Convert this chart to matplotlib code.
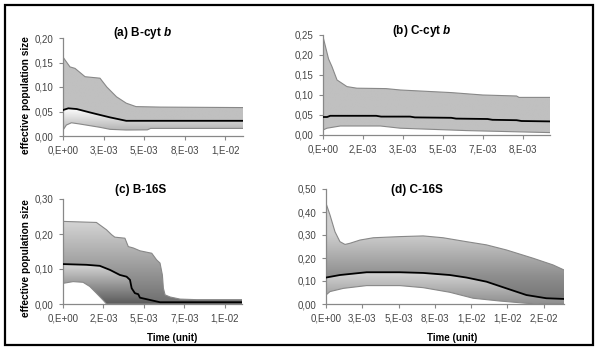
import numpy as np
import matplotlib
matplotlib.use("Agg")
import matplotlib.pyplot as plt
from matplotlib.patches import Polygon, Rectangle
from matplotlib.colors import LinearSegmentedColormap

plt.rcParams['font.family'] = ['Liberation Sans', 'DejaVu Sans']
plt.rcParams['mathtext.fontset'] = 'custom'
plt.rcParams['mathtext.it'] = 'Liberation Sans:italic:bold'
plt.rcParams['mathtext.rm'] = 'Liberation Sans:bold'

# ---------------- data ----------------
# (a) B-cyt b
a_xu = [0, 0.00043, 0.00074, 0.00136, 0.00228, 0.0027, 0.0033, 0.0039, 0.0045, 0.0060, 0.0111]
a_yu = [0.161, 0.141, 0.138, 0.121, 0.118, 0.100, 0.080, 0.067, 0.060, 0.059, 0.058]
a_xm = [0, 0.00033, 0.00085, 0.00167, 0.00228, 0.0029, 0.0039, 0.0111]
a_ym = [0.053, 0.0565, 0.055, 0.048, 0.043, 0.038, 0.031, 0.031]
a_xl = [0, 0.00021, 0.00052, 0.00103, 0.00228, 0.0029, 0.0039, 0.0052, 0.0054, 0.0111]
a_yl = [0.012, 0.0224, 0.027, 0.0245, 0.0177, 0.0136, 0.0122, 0.0125, 0.0155, 0.0155]
a_xticks = [0, 0.0025, 0.005, 0.0075, 0.01]
a_xlabels = ["0,E+00", "3,E-03", "5,E-03", "8,E-03", "1,E-02"]
a_yticks = [0, 0.05, 0.10, 0.15, 0.20]
a_ylabels = ["0,00", "0,05", "0,10", "0,15", "0,20"]

# (b) C-cyt b
b_xu = [0, 0.00023, 0.00037, 0.00058, 0.00099, 0.0014, 0.0026, 0.0032, 0.0053, 0.0066, 0.0080, 0.0081, 0.00938]
b_yu = [0.246, 0.19, 0.171, 0.1375, 0.121, 0.117, 0.116, 0.1125, 0.106, 0.100, 0.0975, 0.094, 0.094]
b_xm = [0, 0.00017, 0.0003, 0.0022, 0.0024, 0.0036, 0.0038, 0.0053, 0.0055, 0.0068, 0.0070, 0.0080, 0.0082, 0.00938]
b_ym = [0.045, 0.045, 0.048, 0.048, 0.046, 0.046, 0.044, 0.043, 0.041, 0.040, 0.038, 0.037, 0.035, 0.034]
b_xl = [0, 0.000165, 0.000715, 0.00237, 0.00319, 0.00594, 0.00938]
b_yl = [0.0125, 0.017, 0.0225, 0.0225, 0.017, 0.011, 0.006]
b_xticks = [0, 0.00165, 0.0033, 0.00495, 0.0066, 0.00825]
b_xlabels = ["0,E+00", "2,E-03", "3,E-03", "5,E-03", "7,E-03", "8,E-03"]
b_yticks = [0, 0.05, 0.10, 0.15, 0.20, 0.25]
b_ylabels = ["0,00", "0,05", "0,10", "0,15", "0,20", "0,25"]

# (c) B-16S
c_xu = [0, 0.00198, 0.00218, 0.00258, 0.00288, 0.00307, 0.00367, 0.00387, 0.00417, 0.00456,
        0.00526, 0.00555, 0.00575, 0.00589, 0.00595, 0.00605, 0.00635, 0.00694, 0.00793, 0.01061]
c_yu = [0.236, 0.233, 0.226, 0.212, 0.198, 0.191, 0.188, 0.164, 0.160, 0.152,
        0.145, 0.126, 0.117, 0.083, 0.045, 0.026, 0.020, 0.014, 0.0124, 0.0124]
c_xm = [0, 0.00139, 0.00218, 0.00278, 0.00337, 0.00377, 0.00397, 0.00407, 0.00426, 0.00446,
        0.00456, 0.00516, 0.00575, 0.01061]
c_ym = [0.114, 0.112, 0.109, 0.0975, 0.083, 0.078, 0.069, 0.045, 0.031, 0.028,
        0.018, 0.0115, 0.005, 0.005]
c_xl = [0, 0.0006, 0.00119, 0.00159, 0.00198, 0.00238, 0.00258, 0.01061]
c_yl = [0.059, 0.064, 0.062, 0.05, 0.031, 0.011, 0.0, 0.0]
c_xticks = [0, 0.0024, 0.0048, 0.0072, 0.0096]
c_xlabels = ["0,E+00", "2,E-03", "5,E-03", "7,E-03", "1,E-02"]
c_yticks = [0, 0.10, 0.20, 0.30]
c_ylabels = ["0,00", "0,10", "0,20", "0,30"]

# (d) C-16S
d_xu = [0, 0.000275, 0.00062, 0.00096, 0.00131, 0.00165, 0.00234, 0.00326, 0.00509, 0.0067,
        0.00807, 0.00968, 0.01106, 0.01243, 0.01427, 0.01564, 0.0164]
d_yu = [0.438, 0.387, 0.314, 0.271, 0.259, 0.264, 0.278, 0.288, 0.293, 0.296,
        0.288, 0.271, 0.257, 0.235, 0.199, 0.170, 0.148]
d_xm = [0, 0.00096, 0.0028, 0.00509, 0.0067, 0.00853, 0.00968, 0.01106, 0.01243, 0.01381, 0.01518, 0.0164]
d_ym = [0.115, 0.126, 0.138, 0.138, 0.135, 0.126, 0.115, 0.097, 0.068, 0.039, 0.025, 0.022]
d_xl = [0, 0.000275, 0.0012, 0.0028, 0.00509, 0.0067, 0.00853, 0.01014, 0.01197, 0.01381, 0.01473, 0.0164]
d_yl = [0.039, 0.054, 0.068, 0.080, 0.080, 0.071, 0.051, 0.025, 0.013, 0.003, 0.0, 0.0]
d_xticks = [0, 0.0025, 0.005, 0.0075, 0.01, 0.0125, 0.015]
d_xlabels = ["0,E+00", "3,E-03", "5,E-03", "8,E-03", "1,E-02", "1,E-02", "2,E-02"]
d_yticks = [0, 0.10, 0.20, 0.30, 0.40, 0.50]
d_ylabels = ["0,00", "0,10", "0,20", "0,30", "0,40", "0,50"]

titles = [r"(a) B-cyt $\mathit{b}$", r"(b) C-cyt $\mathit{b}$", "(c) B-16S", "(d) C-16S"]
ylabel_text = "effective population size"
xlabel_text = "Time (unit)"

# ---------------- drawing ----------------
W, H = 600, 354
fig = plt.figure(figsize=(6, 3.54), dpi=100)
fig.patch.set_facecolor('white')

def px_rect(l, r, t, b):
    return [l / W, 1 - b / H, (r - l) / W, (b - t) / H]

def band(ax, x1, y1, x2, y2, ylo, yhi, stops, xmax):
    verts = list(zip(x1, y1)) + list(zip(x2[::-1], y2[::-1]))
    poly = Polygon(verts, closed=True, facecolor='none', edgecolor='none', transform=ax.transData)
    ax.add_patch(poly)
    cmap = LinearSegmentedColormap.from_list('g', stops)
    img = ax.imshow(np.linspace(0, 1, 256).reshape(-1, 1), extent=[0, xmax, ylo, yhi],
                    origin='lower', cmap=cmap, aspect='auto', interpolation='bilinear', zorder=1)
    img.set_clip_path(poly)

def panel(rect, xu, yu, xm, ym, xl, yl, xt, xlab, yt, ylab, ymax, up_grad, lo_grad):
    ax = fig.add_axes(rect)
    xmax = max(xu)
    band(ax, xu, yu, xm, ym, *up_grad, xmax)
    band(ax, xm, ym, xl, yl, *lo_grad, xmax)
    ax.plot(xu, yu, color='#888888', lw=0.8, zorder=3)
    ax.plot(xl, yl, color='#888888', lw=0.8, zorder=3)
    ax.plot(xm, ym, color='black', lw=1.3, zorder=4)
    ax.set_xlim(0, xmax)
    ax.set_ylim(0, ymax)
    ax.set_xticks(xt)
    ax.set_xticklabels(xlab)
    ax.set_yticks(yt)
    ax.set_yticklabels(ylab)
    for s in ['top', 'right']:
        ax.spines[s].set_visible(False)
    for s in ['left', 'bottom']:
        ax.spines[s].set_color('#888888')
        ax.spines[s].set_linewidth(0.9)
    ax.tick_params(axis='both', direction='out', length=3, width=0.8, color='#888888',
                   labelsize=7, labelcolor='#444444', pad=4)
    ax.patch.set_alpha(0)
    return ax

panel(px_rect(63, 243, 38, 136), a_xu, a_yu, a_xm, a_ym, a_xl, a_yl,
      a_xticks, a_xlabels, a_yticks, a_ylabels, 0.20,
      (0, 0.2, ['#c0c0c0', '#c0c0c0']), (0.012, 0.056, ['#b4b4b4', '#ffffff']))
panel(px_rect(323, 550, 35, 135), b_xu, b_yu, b_xm, b_ym, b_xl, b_yl,
      b_xticks, b_xlabels, b_yticks, b_ylabels, 0.25,
      (0, 0.25, ['#c0c0c0', '#c0c0c0']), (0, 0.25, ['#c0c0c0', '#c0c0c0']))
panel(px_rect(63, 242, 199, 304), c_xu, c_yu, c_xm, c_ym, c_xl, c_yl,
      c_xticks, c_xlabels, c_yticks, c_ylabels, 0.30,
      (0, 0.24, ['#6e6e6e', '#d6d6d6']), (0, 0.115, ['#5a5a5a', '#dadada']))
panel(px_rect(326, 564, 189, 304), d_xu, d_yu, d_xm, d_ym, d_xl, d_yl,
      d_xticks, d_xlabels, d_yticks, d_ylabels, 0.50,
      (0, 0.45, [(0, '#707070'), (0.27, '#8e8e8e'), (0.67, '#cdcdcd'), (1, '#d4d4d4')]),
      (0, 0.14, ['#8e8e8e', '#d8d8d8']))

# titles
title_pos = [(143, 33), (422, 31), (141, 190), (417, 190)]
for t, (x, y) in zip(titles, title_pos):
    fig.text(x / W, 1 - y / H, t, ha='center', va='center', fontsize=8.5, fontweight='bold')

# y labels
for y in (95, 258):
    fig.text(26 / W, 1 - y / H, ylabel_text, rotation=90, ha='center', va='center',
             fontsize=7.3, fontweight='bold')
# x labels
for x in (172, 452):
    fig.text(x / W, 1 - 338 / H, xlabel_text, ha='center', va='center',
             fontsize=7, fontweight='bold')

# outer frame
fig.add_artist(Rectangle((5 / W, 1 - 345 / H), 588 / W, 340 / H, transform=fig.transFigure,
                         fill=False, edgecolor='black', lw=1.6))

fig.savefig('out.png', dpi=100)
